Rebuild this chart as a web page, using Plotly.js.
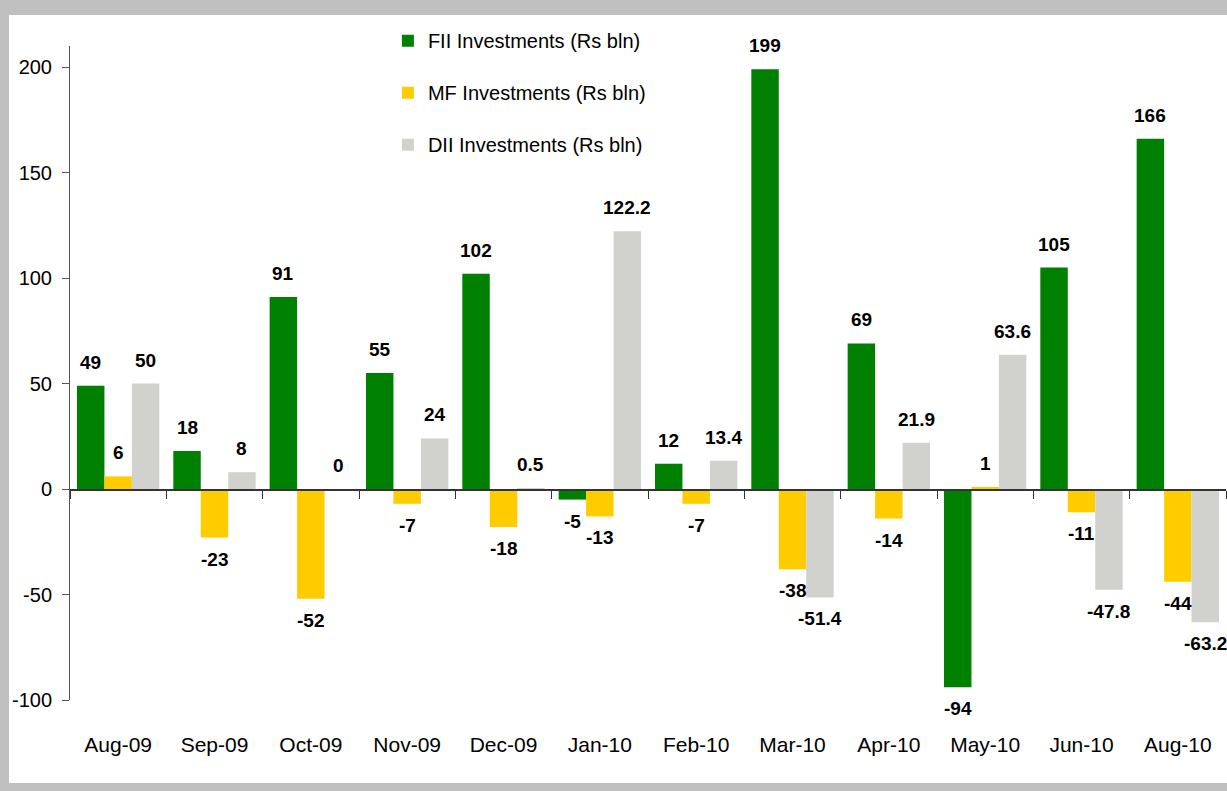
<!DOCTYPE html>
<html>
<head>
<meta charset="utf-8">
<script src="https://cdn.plot.ly/plotly-3.0.1.min.js"></script>
<style>
  html, body { margin: 0; padding: 0; background: #C0C0C0; width: 1227px; height: 791px; overflow: hidden; }
  #chart { position: absolute; left: 9px; top: 15px; width: 1218px; height: 768px; background: #ffffff; }
</style>
</head>
<body>
<div id="chart"></div>
<script>
// ---- data ----
const months = ["Aug-09", "Sep-09", "Oct-09", "Nov-09", "Dec-09", "Jan-10", "Feb-10", "Mar-10", "Apr-10", "May-10", "Jun-10", "Aug-10"];
const fiiValues = [49, 18, 91, 55, 102, -5, 12, 199, 69, -94, 105, 166];
const mfValues = [6, -23, -52, -7, -18, -13, -7, -38, -14, 1, -11, -44];
const diiValues = [50, 8, 0, 24, 0.5, 122.2, 13.4, -51.4, 21.9, 63.6, -47.8, -63.2];
const seriesNames = ["FII Investments (Rs bln)", "MF Investments (Rs bln)", "DII Investments (Rs bln)"];
const yTicks = [-100, -50, 0, 50, 100, 150, 200];

// ---- styling ----
const colors = ["#008000", "#FFCC00", "#D1D1CD"];
const FONT = "'Liberation Sans', Arial, sans-serif";
const bargap = 0.145;
const yRange = [-100, 210];

const series = [fiiValues, mfValues, diiValues];
const traces = series.map((vals, s) => ({
  type: "bar",
  name: seriesNames[s],
  x: months,
  y: vals,
  marker: { color: colors[s], line: { width: 0 } },
  legendgroup: "g" + s,
  hoverinfo: "x+y+name"
}));

// value labels, placed over each bar through the axes
const barW = (1 - bargap) / 3;
const annotations = [];
series.forEach((vals, s) => {
  vals.forEach((v, i) => {
    const pos = v >= 0;
    annotations.push({
      xref: "x", yref: "y",
      x: i + (s - 1) * barW,
      y: v,
      text: String(v),
      showarrow: false,
      yanchor: pos ? "bottom" : "top",
      yshift: pos ? 11 : -9,
      font: { family: FONT, size: 19, color: "#000000", weight: "bold" }
    });
  });
});

const layout = {
  width: 1218,
  height: 768,
  margin: { l: 61, r: 1, t: 31, b: 83, autoexpand: false },
  paper_bgcolor: "#ffffff",
  plot_bgcolor: "#ffffff",
  barmode: "group",
  bargap: bargap,
  bargroupgap: 0,
  font: { family: FONT, color: "#000000" },
  showlegend: true,
  legend: {
    x: 0.275, xanchor: "left",
    yref: "container", y: 0.992, yanchor: "top",
    bgcolor: "rgba(0,0,0,0)",
    font: { family: FONT, size: 20, color: "#000000" },
    tracegroupgap: 23,
    traceorder: "grouped"
  },
  xaxis: {
    type: "category",
    anchor: "free",
    position: (0 - yRange[0]) / (yRange[1] - yRange[0]),
    showline: true,
    linecolor: "#333333",
    linewidth: 1.5,
    ticks: "outside",
    tickson: "boundaries",
    ticklen: 8,
    tickcolor: "#333333",
    tickwidth: 1,
    showgrid: false,
    zeroline: false,
    tickfont: { family: FONT, size: 21, color: "#000000" },
    ticklabelstandoff: 236,
    range: [-0.5, months.length - 0.5]
  },
  yaxis: {
    range: yRange,
    tickvals: yTicks,
    ticktext: yTicks.map(String),
    showline: true,
    linecolor: "#555555",
    linewidth: 1,
    ticks: "outside",
    ticklen: 7,
    tickcolor: "#555555",
    showgrid: false,
    zeroline: false,
    tickfont: { family: FONT, size: 20, color: "#000000" },
    ticklabelstandoff: 6
  },
  annotations: annotations
};

Plotly.newPlot("chart", traces, layout, { displayModeBar: false, staticPlot: true });
</script>
</body>
</html>
